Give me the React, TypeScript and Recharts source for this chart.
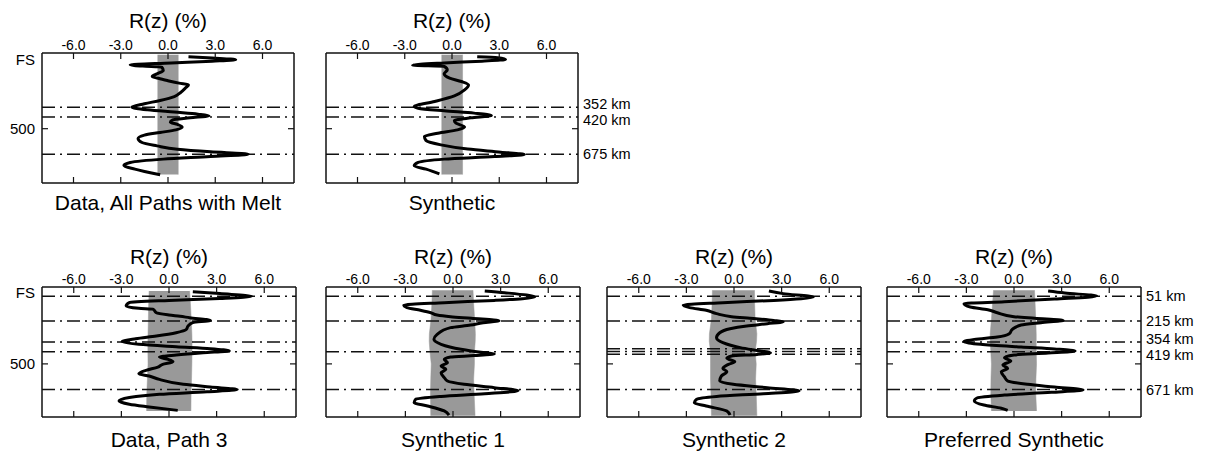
import React from 'react'
import { Area, ComposedChart, Line, ReferenceLine, XAxis, YAxis } from 'recharts'

// x axis (R(z) in %) and depth axis ticks
const xTicks = [-6, -3, 0, 3, 6]
const depthTicks = [0, 500]

// Data, All Paths with Melt
const meltDepth = [5, 14, 26, 36, 48, 61, 70, 77, 100, 123, 141, 152, 169, 187, 199, 221, 251, 279, 306, 329, 352, 370, 386, 400, 411, 425, 439, 455, 471, 489, 508, 526, 544, 567, 595, 618, 641, 659, 675, 691, 709, 732, 752, 778, 817]
const meltR = [1.3, 2.8, 4.3, 2.8, 0.2, -2.4, -1.6, -0.4, -0.3, -0.7, -1.0, -0.7, -0.05, 0.7, 1.3, 1.1, 0.8, 0.4, -0.5, -1.5, -2.3, -1.3, 0.4, 1.9, 2.6, 1.4, 0.3, 0.15, 0.6, 0.9, 0.5, -0.5, -1.5, -1.9, -1.65, -0.7, 0.6, 2.7, 5.1, 2.7, -0.3, -2.4, -2.8, -2.1, -0.5]
const meltBandDepth = [-8, 815]
const meltBandLo = [-0.65, -0.65]
const meltBandHi = [0.65, 0.65]
const meltLayers = [352, 420, 675]

// Synthetic (top row)
const synDepth = [5, 12, 24, 36, 48, 64, 72, 96, 123, 153, 176, 199, 233, 274, 313, 347, 359, 377, 393, 409, 425, 444, 462, 489, 508, 531, 553, 581, 611, 640, 661, 677, 691, 709, 732, 755, 778, 810]
const synR = [1.6, 2.9, 3.4, 1.9, -0.5, -2.5, -0.5, -0.3, -0.5, -0.15, 0.6, 1.05, 0.8, 0.15, -1.1, -2.4, -2.15, -0.5, 1.4, 2.5, 1.2, 0.15, 0.25, 0.8, 0.35, -0.9, -1.75, -1.65, -0.7, 1.0, 3.1, 4.6, 2.7, -0.5, -2.15, -2.4, -1.65, -0.8]
const synBandDepth = [-8, 815]
const synBandLo = [-0.65, -0.65]
const synBandHi = [0.67, 0.67]
const synLayers = [352, 420, 675]
const synLabels = ['352 km', '420 km', '675 km']

// Data, Path 3
const path3Depth = [20, 33, 51, 65, 78, 93, 115, 131, 137, 160, 175, 184, 193, 211, 226, 248, 270, 293, 315, 333, 352, 370, 386, 399, 414, 426, 441, 455, 470, 485, 503, 521, 543, 565, 581, 603, 636, 654, 671, 685, 702, 724, 746, 768, 786, 809]
const path3R = [1.5, 3.2, 5.2, 3.2, 0.0, -2.5, -2.7, -1.9, -1.0, -0.8, 0.0, 0.7, 1.3, 2.6, 1.5, 1.2, 1.1, 0.45, -0.8, -2.1, -2.95, -1.9, 0.45, 2.6, 3.8, 2.15, 0.45, -0.6, -0.05, 0.25, -0.4, -0.7, -1.45, -1.9, -1.25, -0.6, 0.9, 2.6, 4.3, 2.4, -0.6, -2.5, -3.15, -2.5, -1.25, 0.55]
const path3BandDepth = [15, 100, 200, 300, 350, 420, 500, 600, 700, 813]
const path3BandLo = [-1.25, -1.28, -1.3, -1.32, -1.33, -1.33, -1.32, -1.36, -1.4, -1.41]
const path3BandHi = [1.3, 1.35, 1.4, 1.44, 1.45, 1.45, 1.44, 1.42, 1.39, 1.38]
const path3Layers = [51, 215, 354, 419, 671]

// Synthetic 1
const syn1Depth = [15, 27, 56, 78, 93, 109, 126, 144, 160, 175, 186, 197, 213, 226, 242, 259, 304, 337, 370, 403, 425, 434, 445, 454, 470, 492, 514, 536, 559, 591, 614, 636, 658, 678, 698, 716, 735, 758, 780, 813, 840]
const syn1R = [2.0, 3.25, 5.15, 2.6, -0.55, -3.1, -2.9, -2.05, -1.4, -1.0, -0.15, 1.15, 2.9, 1.9, 1.1, -0.15, -1.0, -1.2, -0.75, 0.5, 1.9, 2.6, 1.35, -0.15, -0.55, -0.35, -0.75, -0.45, -0.75, -0.55, -0.35, 0.7, 2.6, 4.1, 2.0, -0.75, -2.35, -2.45, -1.6, -0.55, -0.25]
const syn1BandDepth = [10, 100, 200, 300, 350, 420, 500, 600, 700, 845]
const syn1BandLo = [-1.3, -1.33, -1.38, -1.49, -1.5, -1.45, -1.37, -1.4, -1.42, -1.4]
const syn1BandHi = [1.26, 1.3, 1.36, 1.41, 1.4, 1.35, 1.35, 1.3, 1.33, 1.39]
const syn1Layers = [51, 215, 419, 671]

// Synthetic 2
const syn2Depth = [16, 33, 56, 78, 93, 109, 126, 144, 166, 186, 197, 211, 220, 233, 248, 266, 293, 326, 359, 392, 414, 426, 437, 448, 463, 485, 503, 530, 552, 581, 614, 636, 658, 680, 698, 716, 735, 758, 780, 813, 840]
const syn2R = [2.2, 3.1, 5.0, 2.5, -0.7, -3.2, -2.8, -1.75, -1.1, -0.15, 1.0, 2.5, 3.1, 2.1, 0.8, -0.25, -0.9, -1.1, -0.7, 0.4, 1.65, 2.3, 1.45, -0.15, -0.45, 0.05, -0.35, -0.7, -0.45, -0.8, -0.9, -0.05, 2.1, 4.1, 1.85, -1.1, -2.35, -2.5, -1.75, -0.45, -0.25]
const syn2BandDepth = [10, 100, 200, 300, 350, 420, 500, 600, 700, 845]
const syn2BandLo = [-1.36, -1.38, -1.42, -1.55, -1.56, -1.48, -1.48, -1.48, -1.45, -1.42]
const syn2BandHi = [1.29, 1.3, 1.33, 1.44, 1.42, 1.33, 1.4, 1.36, 1.4, 1.44]
const syn2Layers = [51, 215, 400, 418, 436, 671]

// Preferred Synthetic
const prefDepth = [16, 29, 49, 69, 87, 100, 122, 140, 160, 186, 197, 211, 226, 242, 270, 299, 321, 337, 352, 370, 388, 401, 414, 428, 441, 459, 481, 507, 530, 552, 587, 614, 636, 654, 673, 689, 707, 725, 746, 773, 795, 809]
const prefR = [2.15, 3.2, 5.2, 2.55, -0.6, -3.15, -2.75, -1.65, -1.05, 0.0, 1.3, 3.1, 1.7, 0.45, -0.1, -0.3, -1.05, -2.5, -3.15, -2.1, 0.45, 2.55, 3.85, 2.15, 0.0, -0.6, -0.2, -0.7, -0.4, -0.8, -0.6, -0.4, 0.85, 2.55, 4.35, 2.35, -0.6, -2.3, -2.5, -1.9, -0.8, -0.4]
const prefBandDepth = [10, 100, 200, 300, 350, 420, 500, 600, 700, 813]
const prefBandLo = [-1.29, -1.35, -1.42, -1.5, -1.5, -1.46, -1.42, -1.45, -1.46, -1.42]
const prefBandHi = [1.29, 1.33, 1.37, 1.4, 1.4, 1.4, 1.42, 1.38, 1.37, 1.42]
const prefLayers = [51, 215, 354, 419, 671]
const prefLabels = ['51 km', '215 km', '354 km', '419 km', '671 km']

const AX_L = 45
const AX_R = 72
const AX_T = 44
const AX_B = 40
const BOX_H = 130
const FONT = '"Liberation Sans", Arial, Helvetica, sans-serif'
const AXIS = { stroke: '#111', strokeWidth: 1.5 }

function TopTick(props: any) {
  const { x, y, payload } = props
  return (
    <g>
      <line x1={x} x2={x} y1={y} y2={y + 6} stroke="#111" strokeWidth={1.2} />
      <text x={x} y={y - 3} textAnchor="middle" fontSize={14} fill="#000">
        {Number(payload.value).toFixed(1)}
      </text>
    </g>
  )
}

function BottomTick(props: any) {
  const { x, y } = props
  return <line x1={x} x2={x} y1={y} y2={y - 6} stroke="#111" strokeWidth={1.2} />
}

function LeftTick(props: any) {
  const { x, y, payload, showText } = props
  const isFs = payload.value === 0
  return (
    <g>
      {!isFs && <line x1={x} x2={x + 6} y1={y} y2={y} stroke="#111" strokeWidth={1.2} />}
      {showText && (
        <text x={x - 7} y={isFs ? y + 9 : y + 5} textAnchor="end" fontSize={15} fill="#000">
          {isFs ? 'FS' : String(payload.value)}
        </text>
      )}
    </g>
  )
}

function RightTick(props: any) {
  const { x, y, payload } = props
  if (payload.value === 0) return <g />
  return <line x1={x} x2={x - 6} y1={y} y2={y} stroke="#111" strokeWidth={1.2} />
}

// nudge labels of closely spaced layers apart a little
function labelShift(layers: number[], i: number): number {
  const z = layers[i]
  if (i + 1 < layers.length && layers[i + 1] - z < 80) return -3.5
  if (i > 0 && z - layers[i - 1] < 80) return 3
  return 0
}

interface PanelProps {
  left: number
  top: number
  boxW: number
  title: string
  depth: number[]
  r: number[]
  bandDepth: number[]
  bandLo: number[]
  bandHi: number[]
  layers: number[]
  labels?: string[]
  depthDomain: [number, number]
  rzGap: number
  titleGap: number
  depthLabels?: boolean
}

function Panel(p: PanelProps) {
  const curve = p.depth.map((d, i) => ({ d, r: p.r[i] }))
  const band = p.bandDepth.map((d, i) => ({ d, lo: p.bandLo[i], hi: p.bandHi[i] }))

  return (
    <div style={{ position: 'absolute', left: p.left - AX_L, top: p.top - AX_T }}>
      <ComposedChart
        layout="vertical"
        width={AX_L + p.boxW + AX_R}
        height={AX_T + BOX_H + AX_B}
        margin={{ top: 0, right: 0, bottom: 0, left: 0 }}
      >
        <XAxis
          xAxisId="t"
          orientation="top"
          type="number"
          domain={[-8, 8]}
          ticks={xTicks}
          allowDataOverflow
          height={AX_T}
          tickSize={0}
          tickMargin={0}
          tickLine={false}
          axisLine={AXIS}
          tick={(props: any) => <TopTick {...props} />}
          label={{ value: 'R(z) (%)', position: 'insideTop', offset: AX_T - p.rzGap, fontSize: 21, fill: '#000' }}
        />
        <XAxis
          xAxisId="b"
          orientation="bottom"
          type="number"
          domain={[-8, 8]}
          ticks={xTicks}
          allowDataOverflow
          height={AX_B}
          tickSize={0}
          tickMargin={0}
          tickLine={false}
          axisLine={AXIS}
          tick={(props: any) => <BottomTick {...props} />}
          label={{ value: p.title, position: 'insideTop', offset: p.titleGap, fontSize: 21, fill: '#000' }}
        />
        <YAxis
          yAxisId="l"
          orientation="left"
          type="number"
          dataKey="d"
          domain={p.depthDomain}
          allowDataOverflow
          ticks={depthTicks}
          width={AX_L}
          tickSize={0}
          tickMargin={0}
          tickLine={false}
          axisLine={AXIS}
          tick={(props: any) => <LeftTick {...props} showText={!!p.depthLabels} />}
        />
        <YAxis
          yAxisId="r"
          orientation="right"
          type="number"
          dataKey="d"
          domain={p.depthDomain}
          allowDataOverflow
          ticks={depthTicks}
          width={AX_R}
          tickSize={0}
          tickMargin={0}
          tickLine={false}
          axisLine={AXIS}
          tick={(props: any) => <RightTick {...props} />}
        />
        <Area
          data={band}
          dataKey="hi"
          baseValue={0}
          xAxisId="t"
          yAxisId="l"
          type="linear"
          fill="#999999"
          fillOpacity={1}
          stroke="#999999"
          strokeWidth={0.5}
          isAnimationActive={false}
        />
        <Area
          data={band}
          dataKey="lo"
          baseValue={0}
          xAxisId="t"
          yAxisId="l"
          type="linear"
          fill="#999999"
          fillOpacity={1}
          stroke="#999999"
          strokeWidth={0.5}
          isAnimationActive={false}
        />
        {p.layers.map((z, i) => (
          <ReferenceLine
            key={i}
            y={z}
            xAxisId="t"
            yAxisId="l"
            stroke="#111"
            strokeWidth={1.5}
            strokeDasharray="13 5 2 5"
            label={
              p.labels
                ? {
                    value: p.labels[i],
                    position: 'right',
                    offset: 5,
                    fontSize: 14.5,
                    fill: '#000',
                    dy: labelShift(p.layers, i),
                  }
                : undefined
            }
          />
        ))}
        <Line
          data={curve}
          dataKey="r"
          xAxisId="t"
          yAxisId="l"
          type="monotone"
          stroke="#000"
          strokeWidth={3}
          dot={false}
          isAnimationActive={false}
        />
      </ComposedChart>
    </div>
  )
}

export default function App() {
  const topDomain: [number, number] = [-20, 873]
  const botDomain: [number, number] = [-11, 853]
  return (
    <div
      style={{
        position: 'absolute',
        left: 0,
        top: 0,
        width: 1212,
        height: 455,
        background: '#fff',
        fontFamily: FONT,
        overflow: 'hidden',
      }}
    >
      <Panel left={42} top={53} boxW={252} title="Data, All Paths with Melt" depth={meltDepth} r={meltR}
        bandDepth={meltBandDepth} bandLo={meltBandLo} bandHi={meltBandHi} layers={meltLayers}
        depthDomain={topDomain} rzGap={40} titleGap={12} depthLabels />
      <Panel left={326} top={53} boxW={252} title="Synthetic" depth={synDepth} r={synR}
        bandDepth={synBandDepth} bandLo={synBandLo} bandHi={synBandHi} layers={synLayers} labels={synLabels}
        depthDomain={topDomain} rzGap={40} titleGap={12} />
      <Panel left={42} top={287} boxW={254} title="Data, Path 3" depth={path3Depth} r={path3R}
        bandDepth={path3BandDepth} bandLo={path3BandLo} bandHi={path3BandHi} layers={path3Layers}
        depthDomain={botDomain} rzGap={38} titleGap={15} depthLabels />
      <Panel left={326} top={287} boxW={254} title="Synthetic 1" depth={syn1Depth} r={syn1R}
        bandDepth={syn1BandDepth} bandLo={syn1BandLo} bandHi={syn1BandHi} layers={syn1Layers}
        depthDomain={botDomain} rzGap={38} titleGap={15} />
      <Panel left={607} top={287} boxW={254} title="Synthetic 2" depth={syn2Depth} r={syn2R}
        bandDepth={syn2BandDepth} bandLo={syn2BandLo} bandHi={syn2BandHi} layers={syn2Layers}
        depthDomain={botDomain} rzGap={38} titleGap={15} />
      <Panel left={887} top={287} boxW={254} title="Preferred Synthetic" depth={prefDepth} r={prefR}
        bandDepth={prefBandDepth} bandLo={prefBandLo} bandHi={prefBandHi} layers={prefLayers} labels={prefLabels}
        depthDomain={botDomain} rzGap={38} titleGap={15} />
    </div>
  )
}
